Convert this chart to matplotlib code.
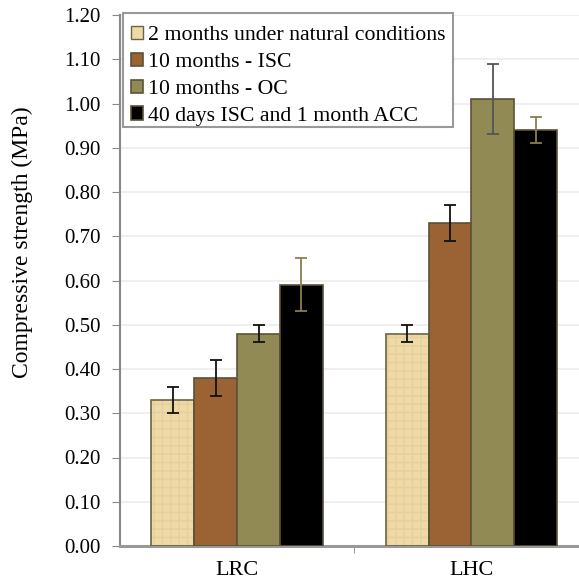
import matplotlib.pyplot as plt
import matplotlib.patches as mpatches
import numpy as np

plt.rcParams['font.family'] = ['Liberation Serif', 'DejaVu Serif']

categories = ['LRC', 'LHC']
series = ['2 months under natural conditions', '10 months - ISC',
          '10 months - OC', '40 days ISC and 1 month ACC']
values = [
    [0.33, 0.48],
    [0.38, 0.73],
    [0.48, 1.01],
    [0.59, 0.94],
]
errors = [
    [0.03, 0.02],
    [0.04, 0.04],
    [0.02, 0.08],
    [0.06, 0.03],
]

colors = ['#efd9a6', '#9b6233', '#918a55', '#000000']
err_colors = [['#111111', '#111111'],
              ['#111111', '#111111'],
              ['#111111', '#555555'],
              ['#8b7f4e', '#8b7f4e']]

fig = plt.figure(figsize=(5.79, 5.82), dpi=100)
ax = fig.add_axes([120/579, 1-546/582, (588.5-120)/579, (546-15)/582])

x = np.arange(len(categories))
w = 0.183
for i in range(len(series)):
    pos = x + (i - 1.5) * w
    if i == 0:
        # light texture for the first series
        ax.bar(pos, values[i], w, color=colors[i], edgecolor='#e4cf9d',
               hatch='++', linewidth=0, zorder=2)
        ax.bar(pos, values[i], w, color='none', edgecolor='#6b6444',
               linewidth=1.2, zorder=3)
        ax.bar([0], [0], color=colors[i], edgecolor='#6b6444', label=series[i])
    else:
        ax.bar(pos, values[i], w, color=colors[i], edgecolor='#5a5238',
               linewidth=1.2, zorder=3, label=series[i])
    for j in range(len(categories)):
        ax.errorbar(pos[j], values[i][j], yerr=errors[i][j], fmt='none',
                    ecolor=err_colors[i][j], elinewidth=1.3, capsize=4,
                    capthick=1.3, zorder=4)

ax.set_xlim(-0.5, 1.5)
ax.set_ylim(0, 1.2)
ax.set_yticks(np.arange(0, 1.21, 0.1))
ax.set_yticklabels(['%.2f' % v for v in np.arange(0, 1.21, 0.1)], fontsize=15)
ax.set_xticks(x)
ax.set_xticklabels(categories, fontsize=16)
ax.tick_params(axis='x', length=0, pad=11)
ax.set_xticks([0.5], minor=True)
ax.tick_params(axis='x', which='minor', length=5, color='#888888', direction='out')
ax.tick_params(axis='y', length=6, color='#888888', direction='out', pad=8)

ax.set_ylabel('Compressive strength (MPa)', fontsize=17)
ax.yaxis.set_label_coords(-0.185, (546-242)/531)
ax.yaxis.grid(True, color='#ececec', linewidth=1.2, zorder=0)
ax.set_axisbelow(True)

for s in ['top', 'right']:
    ax.spines[s].set_visible(False)
ax.spines['left'].set_color('#888888')
ax.spines['left'].set_linewidth(1.5)
ax.spines['bottom'].set_color('#999999')
ax.spines['bottom'].set_linewidth(2.2)

# legend box drawn separately so the padding can differ per side
box = mpatches.Rectangle((123/579, 1-127/582), 330/579, 114/582,
                         transform=fig.transFigure, facecolor='white',
                         edgecolor='#999999', linewidth=1.5, zorder=5)
box.set_clip_on(False)
ax.add_artist(box)

leg = ax.legend(loc='upper left', bbox_to_anchor=(0.008, 0.993), fontsize=15.7,
                frameon=False, handlelength=0.55, handleheight=0.55,
                handletextpad=0.25, labelspacing=0.35, borderpad=0.32,
                borderaxespad=0.0)
leg.set_zorder(6)

fig.savefig('out.png', dpi=100)
